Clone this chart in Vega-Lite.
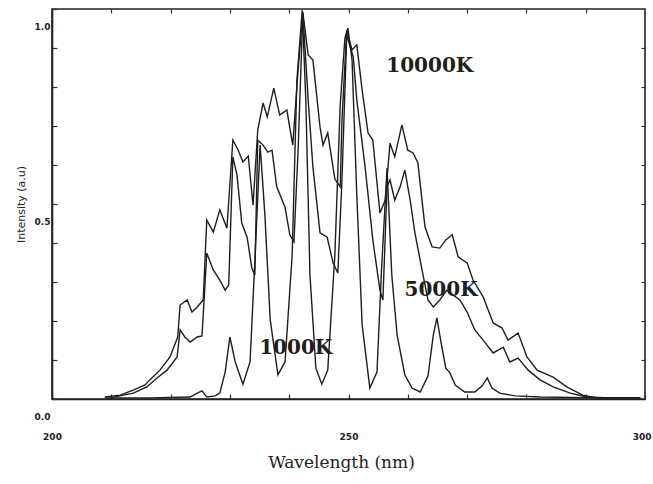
{
  "$schema": "https://vega.github.io/schema/vega-lite/v6.json",
  "width": 593,
  "height": 390,
  "autosize": {"type": "none"},
  "padding": {"left": 52, "top": 9, "right": 8, "bottom": 85},
  "background": "white",
  "config": {
    "view": {"stroke": "#222", "strokeWidth": 1.6},
    "axis": {"grid": false, "domainColor": "#222", "domainWidth": 1.6, "tickColor": "#333", "tickWidth": 1.2, "labelColor": "#222", "titleColor": "#222", "labelFlush": false}
  },
  "datasets": {
    "spectra": [
      {"series": "10000K", "wl": 208.9, "I": 0.005}, {"series": "10000K", "wl": 211.5, "I": 0.010}, {"series": "10000K", "wl": 213.7, "I": 0.023}, {"series": "10000K", "wl": 215.7, "I": 0.036}, {"series": "10000K", "wl": 216.5, "I": 0.049}, {"series": "10000K", "wl": 218.2, "I": 0.074}, {"series": "10000K", "wl": 219.9, "I": 0.108}, {"series": "10000K", "wl": 221.2, "I": 0.159}, {"series": "10000K", "wl": 221.6, "I": 0.241}, {"series": "10000K", "wl": 222.8, "I": 0.254}, {"series": "10000K", "wl": 223.6, "I": 0.223}, {"series": "10000K", "wl": 224.5, "I": 0.236}, {"series": "10000K", "wl": 225.5, "I": 0.254}, {"series": "10000K", "wl": 226.1, "I": 0.459}, {"series": "10000K", "wl": 227.2, "I": 0.428}, {"series": "10000K", "wl": 228.3, "I": 0.485}, {"series": "10000K", "wl": 229.5, "I": 0.438}, {"series": "10000K", "wl": 230.5, "I": 0.664}, {"series": "10000K", "wl": 231.4, "I": 0.638}, {"series": "10000K", "wl": 232.2, "I": 0.608}, {"series": "10000K", "wl": 233.1, "I": 0.623}, {"series": "10000K", "wl": 233.9, "I": 0.497}, {"series": "10000K", "wl": 234.7, "I": 0.690}, {"series": "10000K", "wl": 235.6, "I": 0.759}, {"series": "10000K", "wl": 236.3, "I": 0.723}, {"series": "10000K", "wl": 237.4, "I": 0.797}, {"series": "10000K", "wl": 238.4, "I": 0.728}, {"series": "10000K", "wl": 239.6, "I": 0.741}, {"series": "10000K", "wl": 240.6, "I": 0.651}, {"series": "10000K", "wl": 241.5, "I": 0.844}, {"series": "10000K", "wl": 242.3, "I": 0.992}, {"series": "10000K", "wl": 243.2, "I": 0.882}, {"series": "10000K", "wl": 244.0, "I": 0.869}, {"series": "10000K", "wl": 245.2, "I": 0.697}, {"series": "10000K", "wl": 245.7, "I": 0.651}, {"series": "10000K", "wl": 246.5, "I": 0.682}, {"series": "10000K", "wl": 247.7, "I": 0.564}, {"series": "10000K", "wl": 248.6, "I": 0.544}, {"series": "10000K", "wl": 248.9, "I": 0.715}, {"series": "10000K", "wl": 249.7, "I": 0.946}, {"series": "10000K", "wl": 250.6, "I": 0.895}, {"series": "10000K", "wl": 251.4, "I": 0.908}, {"series": "10000K", "wl": 252.3, "I": 0.792}, {"series": "10000K", "wl": 253.3, "I": 0.682}, {"series": "10000K", "wl": 254.1, "I": 0.664}, {"series": "10000K", "wl": 255.3, "I": 0.477}, {"series": "10000K", "wl": 256.2, "I": 0.510}, {"series": "10000K", "wl": 257.0, "I": 0.656}, {"series": "10000K", "wl": 257.8, "I": 0.621}, {"series": "10000K", "wl": 259.0, "I": 0.703}, {"series": "10000K", "wl": 260.0, "I": 0.638}, {"series": "10000K", "wl": 260.9, "I": 0.631}, {"series": "10000K", "wl": 261.7, "I": 0.605}, {"series": "10000K", "wl": 262.9, "I": 0.441}, {"series": "10000K", "wl": 264.1, "I": 0.390}, {"series": "10000K", "wl": 265.4, "I": 0.387}, {"series": "10000K", "wl": 266.4, "I": 0.408}, {"series": "10000K", "wl": 267.5, "I": 0.421}, {"series": "10000K", "wl": 268.5, "I": 0.364}, {"series": "10000K", "wl": 270.0, "I": 0.349}, {"series": "10000K", "wl": 271.0, "I": 0.305}, {"series": "10000K", "wl": 272.7, "I": 0.262}, {"series": "10000K", "wl": 274.4, "I": 0.195}, {"series": "10000K", "wl": 275.9, "I": 0.182}, {"series": "10000K", "wl": 276.9, "I": 0.151}, {"series": "10000K", "wl": 278.6, "I": 0.169}, {"series": "10000K", "wl": 280.1, "I": 0.108}, {"series": "10000K", "wl": 281.8, "I": 0.074}, {"series": "10000K", "wl": 284.5, "I": 0.056}, {"series": "10000K", "wl": 286.8, "I": 0.031}, {"series": "10000K", "wl": 289.5, "I": 0.010}, {"series": "10000K", "wl": 291.9, "I": 0.003}, {"series": "10000K", "wl": 295.8, "I": 0.003}, {"series": "10000K", "wl": 299.2, "I": 0.003},
      {"series": "5000K", "wl": 209.8, "I": 0.003}, {"series": "5000K", "wl": 213.7, "I": 0.015}, {"series": "5000K", "wl": 216.0, "I": 0.031}, {"series": "5000K", "wl": 217.7, "I": 0.054}, {"series": "5000K", "wl": 219.4, "I": 0.074}, {"series": "5000K", "wl": 221.1, "I": 0.108}, {"series": "5000K", "wl": 221.6, "I": 0.177}, {"series": "5000K", "wl": 222.4, "I": 0.159}, {"series": "5000K", "wl": 223.3, "I": 0.146}, {"series": "5000K", "wl": 224.5, "I": 0.159}, {"series": "5000K", "wl": 225.3, "I": 0.162}, {"series": "5000K", "wl": 226.1, "I": 0.374}, {"series": "5000K", "wl": 227.2, "I": 0.331}, {"series": "5000K", "wl": 228.3, "I": 0.305}, {"series": "5000K", "wl": 229.2, "I": 0.279}, {"series": "5000K", "wl": 229.8, "I": 0.292}, {"series": "5000K", "wl": 230.5, "I": 0.621}, {"series": "5000K", "wl": 231.2, "I": 0.574}, {"series": "5000K", "wl": 232.0, "I": 0.451}, {"series": "5000K", "wl": 232.9, "I": 0.415}, {"series": "5000K", "wl": 233.7, "I": 0.336}, {"series": "5000K", "wl": 234.2, "I": 0.318}, {"series": "5000K", "wl": 234.7, "I": 0.664}, {"series": "5000K", "wl": 235.6, "I": 0.651}, {"series": "5000K", "wl": 236.4, "I": 0.633}, {"series": "5000K", "wl": 237.1, "I": 0.638}, {"series": "5000K", "wl": 237.9, "I": 0.544}, {"series": "5000K", "wl": 239.3, "I": 0.492}, {"series": "5000K", "wl": 240.1, "I": 0.421}, {"series": "5000K", "wl": 240.8, "I": 0.403}, {"series": "5000K", "wl": 241.5, "I": 0.638}, {"series": "5000K", "wl": 242.3, "I": 0.990}, {"series": "5000K", "wl": 243.2, "I": 0.767}, {"series": "5000K", "wl": 244.0, "I": 0.595}, {"series": "5000K", "wl": 245.2, "I": 0.426}, {"series": "5000K", "wl": 246.4, "I": 0.415}, {"series": "5000K", "wl": 247.4, "I": 0.349}, {"series": "5000K", "wl": 248.2, "I": 0.323}, {"series": "5000K", "wl": 248.9, "I": 0.562}, {"series": "5000K", "wl": 249.7, "I": 0.933}, {"series": "5000K", "wl": 250.8, "I": 0.877}, {"series": "5000K", "wl": 251.4, "I": 0.767}, {"series": "5000K", "wl": 252.8, "I": 0.595}, {"series": "5000K", "wl": 254.1, "I": 0.408}, {"series": "5000K", "wl": 255.3, "I": 0.279}, {"series": "5000K", "wl": 255.8, "I": 0.254}, {"series": "5000K", "wl": 256.5, "I": 0.544}, {"series": "5000K", "wl": 257.0, "I": 0.562}, {"series": "5000K", "wl": 257.8, "I": 0.510}, {"series": "5000K", "wl": 258.7, "I": 0.544}, {"series": "5000K", "wl": 259.5, "I": 0.587}, {"series": "5000K", "wl": 260.4, "I": 0.510}, {"series": "5000K", "wl": 261.2, "I": 0.426}, {"series": "5000K", "wl": 262.4, "I": 0.331}, {"series": "5000K", "wl": 263.4, "I": 0.254}, {"series": "5000K", "wl": 264.3, "I": 0.236}, {"series": "5000K", "wl": 265.4, "I": 0.254}, {"series": "5000K", "wl": 266.6, "I": 0.279}, {"series": "5000K", "wl": 267.6, "I": 0.267}, {"series": "5000K", "wl": 268.8, "I": 0.254}, {"series": "5000K", "wl": 270.0, "I": 0.223}, {"series": "5000K", "wl": 271.3, "I": 0.177}, {"series": "5000K", "wl": 272.7, "I": 0.151}, {"series": "5000K", "wl": 274.4, "I": 0.118}, {"series": "5000K", "wl": 276.1, "I": 0.133}, {"series": "5000K", "wl": 277.2, "I": 0.095}, {"series": "5000K", "wl": 278.6, "I": 0.105}, {"series": "5000K", "wl": 280.3, "I": 0.074}, {"series": "5000K", "wl": 282.3, "I": 0.049}, {"series": "5000K", "wl": 284.5, "I": 0.031}, {"series": "5000K", "wl": 287.4, "I": 0.015}, {"series": "5000K", "wl": 290.2, "I": 0.005}, {"series": "5000K", "wl": 294.1, "I": 0.003}, {"series": "5000K", "wl": 299.2, "I": 0.003},
      {"series": "1000K", "wl": 208.9, "I": 0.003}, {"series": "1000K", "wl": 216.5, "I": 0.003}, {"series": "1000K", "wl": 223.3, "I": 0.005}, {"series": "1000K", "wl": 224.5, "I": 0.015}, {"series": "1000K", "wl": 225.3, "I": 0.021}, {"series": "1000K", "wl": 226.1, "I": 0.005}, {"series": "1000K", "wl": 227.5, "I": 0.008}, {"series": "1000K", "wl": 228.3, "I": 0.015}, {"series": "1000K", "wl": 229.2, "I": 0.069}, {"series": "1000K", "wl": 230.0, "I": 0.159}, {"series": "1000K", "wl": 230.9, "I": 0.095}, {"series": "1000K", "wl": 232.2, "I": 0.038}, {"series": "1000K", "wl": 233.4, "I": 0.095}, {"series": "1000K", "wl": 234.2, "I": 0.351}, {"series": "1000K", "wl": 235.1, "I": 0.651}, {"series": "1000K", "wl": 235.9, "I": 0.472}, {"series": "1000K", "wl": 236.8, "I": 0.203}, {"series": "1000K", "wl": 238.1, "I": 0.062}, {"series": "1000K", "wl": 239.3, "I": 0.095}, {"series": "1000K", "wl": 240.5, "I": 0.369}, {"series": "1000K", "wl": 241.3, "I": 0.818}, {"series": "1000K", "wl": 242.2, "I": 0.997}, {"series": "1000K", "wl": 242.8, "I": 0.767}, {"series": "1000K", "wl": 243.5, "I": 0.318}, {"series": "1000K", "wl": 244.5, "I": 0.079}, {"series": "1000K", "wl": 245.5, "I": 0.038}, {"series": "1000K", "wl": 246.5, "I": 0.074}, {"series": "1000K", "wl": 247.7, "I": 0.369}, {"series": "1000K", "wl": 248.6, "I": 0.754}, {"series": "1000K", "wl": 249.4, "I": 0.926}, {"series": "1000K", "wl": 249.9, "I": 0.951}, {"series": "1000K", "wl": 250.6, "I": 0.869}, {"series": "1000K", "wl": 251.4, "I": 0.523}, {"series": "1000K", "wl": 252.3, "I": 0.190}, {"series": "1000K", "wl": 253.6, "I": 0.028}, {"series": "1000K", "wl": 254.8, "I": 0.069}, {"series": "1000K", "wl": 255.6, "I": 0.341}, {"series": "1000K", "wl": 256.5, "I": 0.592}, {"series": "1000K", "wl": 257.3, "I": 0.318}, {"series": "1000K", "wl": 258.2, "I": 0.164}, {"series": "1000K", "wl": 259.5, "I": 0.062}, {"series": "1000K", "wl": 260.7, "I": 0.028}, {"series": "1000K", "wl": 262.1, "I": 0.018}, {"series": "1000K", "wl": 263.4, "I": 0.059}, {"series": "1000K", "wl": 264.3, "I": 0.164}, {"series": "1000K", "wl": 264.9, "I": 0.208}, {"series": "1000K", "wl": 265.6, "I": 0.146}, {"series": "1000K", "wl": 266.4, "I": 0.079}, {"series": "1000K", "wl": 267.1, "I": 0.067}, {"series": "1000K", "wl": 268.0, "I": 0.036}, {"series": "1000K", "wl": 269.6, "I": 0.018}, {"series": "1000K", "wl": 271.3, "I": 0.018}, {"series": "1000K", "wl": 272.5, "I": 0.033}, {"series": "1000K", "wl": 273.4, "I": 0.054}, {"series": "1000K", "wl": 274.2, "I": 0.028}, {"series": "1000K", "wl": 275.5, "I": 0.015}, {"series": "1000K", "wl": 278.1, "I": 0.008}, {"series": "1000K", "wl": 282.3, "I": 0.005}, {"series": "1000K", "wl": 292.4, "I": 0.003}, {"series": "1000K", "wl": 299.2, "I": 0.003}
    ],
    "labels": [
      {"label": "10000K", "wl": 263.7, "I": 0.854},
      {"label": "5000K", "wl": 265.6, "I": 0.28},
      {"label": "1000K", "wl": 241.1, "I": 0.131}
    ]
  },
  "layer": [
    {
      "data": {"name": "spectra"},
      "mark": {"type": "line", "color": "#1e1e1e", "strokeWidth": 1.4, "interpolate": "linear"},
      "encoding": {
        "x": {
          "field": "wl", "type": "quantitative",
          "scale": {"domain": [200, 300], "nice": false},
          "axis": {
            "orient": "bottom",
            "values": [200, 210, 220, 230, 240, 250, 260, 270, 280, 290, 300],
            "labelExpr": "datum.value % 50 == 0 ? datum.label : ''",
            "labelAlign": {"condition": {"test": "datum.value == 300", "value": "right"}, "value": "center"},
            "labelOffset": {"condition": {"test": "datum.value == 300", "value": 6}, "value": 0},
            "tickSize": -5,
            "labelPadding": 38,
            "labelFont": "DejaVu Sans", "labelFontSize": 9, "labelFontWeight": "bold",
            "title": "Wavelength (nm)",
            "titleFont": "DejaVu Serif", "titleFontSize": 17, "titleFontWeight": "normal",
            "titleX": 289, "titleAlign": "center",
            "titlePadding": 13
          }
        },
        "y": {
          "field": "I", "type": "quantitative",
          "scale": {"domain": [0, 1], "nice": false},
          "axis": {
            "orient": "left",
            "values": [0, 0.1, 0.2, 0.3, 0.4, 0.5, 0.6, 0.7, 0.8, 0.9, 1.0],
            "labelExpr": "(datum.value == 0 || datum.value == 0.5 || datum.value == 1) ? format(datum.value, '.1f') : ''",
            "tickSize": -5,
            "labelPadding": 7,
            "labelOffset": 17,
            "labelFont": "DejaVu Sans", "labelFontSize": 9, "labelFontWeight": "bold",
            "title": "Intensity (a.u)",
            "titleFont": "DejaVu Sans", "titleFontSize": 11, "titleFontWeight": "normal",
            "titlePadding": 8
          }
        },
        "detail": {"field": "series"}
      }
    },
    {
      "data": {"name": "labels"},
      "mark": {"type": "text", "font": "DejaVu Serif", "fontSize": 20, "fontWeight": "bold", "color": "#1e1e1e"},
      "encoding": {
        "x": {
          "field": "wl", "type": "quantitative",
          "axis": {"orient": "top", "values": [210, 220, 230, 240, 250, 260, 270, 280, 290], "labels": false, "title": null, "tickSize": -4, "domain": false}
        },
        "y": {
          "field": "I", "type": "quantitative",
          "axis": {"orient": "right", "values": [0.1, 0.2, 0.3, 0.4, 0.5, 0.6, 0.7, 0.8, 0.9], "labels": false, "title": null, "tickSize": -4, "domain": false}
        },
        "text": {"field": "label"}
      }
    }
  ],
  "resolve": {"axis": {"x": "independent", "y": "independent"}}
}
